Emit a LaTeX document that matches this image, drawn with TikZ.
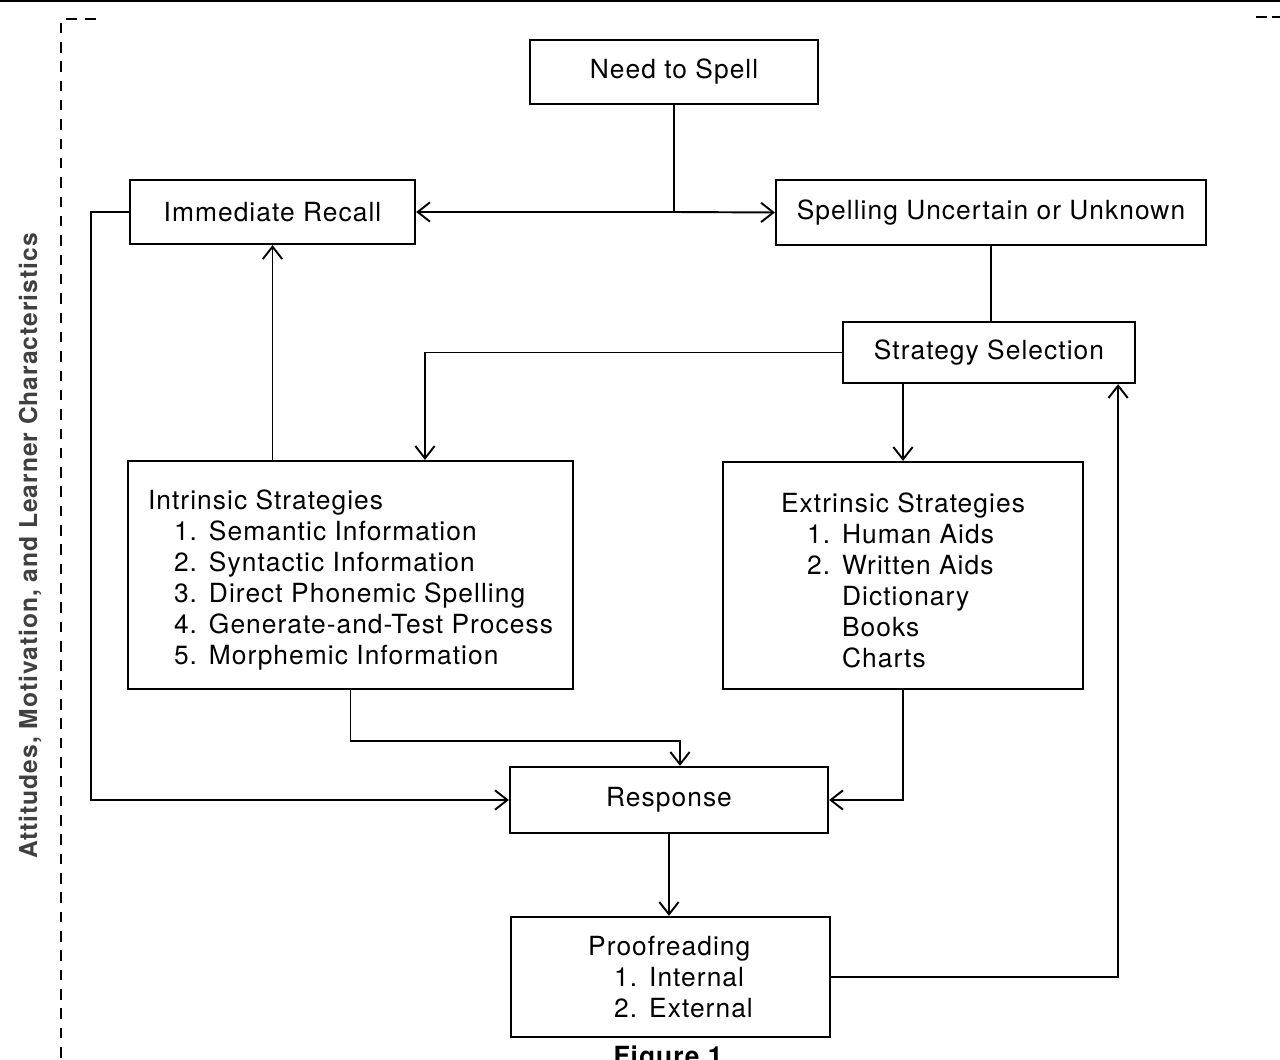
\documentclass[tikz,border=0pt]{standalone}
\usepackage{fontspec}
\setmainfont{TeX Gyre Heros}[LetterSpace=4]
\usetikzlibrary{arrows.meta}

\newcommand{\itm}[2]{\hspace*{0.52cm}\makebox[0.7cm][l]{#1.}#2}
\newcommand{\subitm}[1]{\hspace*{1.22cm}#1}

\begin{document}
\begin{tikzpicture}[x=0.02cm, y=-0.02cm,
    box/.style={draw, line width=1.3pt, align=left, inner sep=0pt,
        font=\fontsize{15}{17.6}\selectfont},
    link/.style={line width=1.1pt},
    arr/.style={link, -{Straight Barb[length=7pt, width=11pt]}}]
                \useasboundingbox (0,0) rectangle (1280,1060);

                \draw[line width=1.6pt] (0,1) -- (1280,1);
                \draw[line width=1.2pt, dash pattern=on 6pt off 5pt] (96,19) -- (61,19) -- (61,1060);
                \draw[line width=1.2pt, dash pattern=on 6pt off 3pt] (1256,17) -- (1280,17);

                \node[rotate=90, text=black!75, font=\bfseries\fontsize{14}{16}\selectfont] (side) at (30,546) {Attitudes, Motivation, and Learner Characteristics};

                \node[box, minimum width=5.76cm, minimum height=1.28cm] (need) at (674,72) {Need to Spell};
                \node[box, minimum width=5.7cm, minimum height=1.28cm] (recall) at (272.5,212) {Immediate Recall};
                \node[box, minimum width=8.6cm, minimum height=1.3cm] (uncert) at (991,212.5) {Spelling Uncertain or Unknown};
                \node[box, minimum width=5.84cm, minimum height=1.22cm] (select) at (989,352.5) {Strategy Selection};
                \node[box, minimum width=8.9cm, minimum height=4.56cm] (intr) at (350.5,575) {\rule{0pt}{17pt}Intrinsic Strategies\\
                    \itm{1}{Semantic Information}\\
                    \itm{2}{Syntactic Information}\\
                    \itm{3}{Direct Phonemic Spelling}\\
                    \itm{4}{Generate-and-Test Process}\\
                    \itm{5}{Morphemic Information}};
                \node[box, minimum width=7.2cm, minimum height=4.54cm] (extr) at (903,575.5) {\rule{0pt}{17pt}Extrinsic Strategies\\
                    \itm{1}{Human Aids}\\
                    \itm{2}{Written Aids}\\
                    \subitm{Dictionary}\\
                    \subitm{Books}\\
                    \subitm{Charts}};
                \node[box, minimum width=6.36cm, minimum height=1.32cm] (resp) at (669,800) {Response};
                \node[box, minimum width=6.38cm, minimum height=2.4cm] (proof) at (670.5,977) {Proofreading\\
                    \itm{1}{Internal}\\
                    \itm{2}{External}};

                \node[anchor=north, inner sep=0pt, font=\bfseries\fontsize{15}{18}\selectfont] (cap) at (668,1046) {Figure 1};

                \coordinate (hub) at (need.south |- recall.east);
                \draw[link] (need.south) -- (hub);
                \draw[arr] (hub) -- (recall.east);
                \draw[arr] (hub) -- (uncert.west);
                \draw[link] (uncert.south) -- (uncert.south |- select.north);
                \draw[arr] (select.west) -| ([xshift=1.49cm]intr.north);
                \draw[arr] (select.south -| extr.north) -- (extr.north);
                \draw[arr] (recall.south |- intr.north) -- (recall.south);
                \draw[arr] (recall.west) -- ++(-0.76cm,0) |- (resp.west);
                \draw[arr] (intr.south) -- ++(0,-1.02cm) -| ([xshift=0.22cm]resp.north);
                \draw[arr] (extr.south) |- (resp.east);
                \draw[arr] (resp.south) -- (resp.south |- proof.north);
                \draw[arr] (proof.east) -| ([xshift=-0.36cm]select.south east);

            \end{tikzpicture}
\end{document}
